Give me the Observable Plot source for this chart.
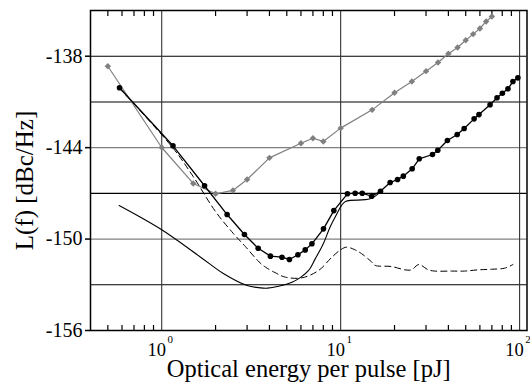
<!DOCTYPE html>
<html><head><meta charset="utf-8">
<script src="https://cdn.jsdelivr.net/npm/d3@7"></script>
<script src="https://cdn.jsdelivr.net/npm/@observablehq/plot@0.6"></script>
<style>
html,body{margin:0;padding:0;background:#fff;}
#chart svg, #chart svg text { font-family: "Liberation Serif", "Times New Roman", serif !important; }
</style></head><body><div id="chart"></div>
<script>
// Gray diamonds (measured)
const diamondX = [0.5,1.0,1.5,2.0,2.5,3.0,4.0,6.0,7.0,8.0,10,15,20,25,30,35,40,45,50,55,60,65,70];
const diamondY = [-138.66,-143.99,-146.35,-147.03,-146.81,-146.09,-144.67,-143.71,-143.38,-143.6,-142.72,-141.52,-140.4,-139.66,-138.98,-138.41,-137.84,-137.43,-136.95,-136.55,-136.18,-135.72,-135.39];
// Black circles (measured)
const circleX = [0.581,1.156,1.736,2.32,2.90,3.46,4.05,4.70,5.17,5.77,6.34,6.91,8.02,9.16,10.91,12.05,13.2,14.9,16.7,18.9,20.8,22.4,25.1,27.5,32.6,34.9,39.5,44.8,49.0,55.7,59.3,68.4,74.8,80.1,86.1,91.8,97.8];
const circleY = [-140.07,-143.88,-146.5,-148.39,-149.7,-150.6,-151.12,-151.19,-151.34,-151.03,-150.71,-150.31,-149.33,-148.13,-147.03,-146.99,-146.99,-147.19,-146.86,-146.29,-146.09,-145.87,-145.39,-144.73,-144.45,-144.17,-143.53,-143.14,-142.74,-142.11,-141.83,-141.19,-140.73,-140.43,-140.14,-139.66,-139.42];
// Solid curve (no markers)
const solidX = [0.578,1.0,1.65,2.21,3.0,3.56,3.9,4.5,5.35,6.0,6.62,7.21,8.0,8.72,9.53,10.1,10.7,14.6,16.7];
const solidY = [-147.8,-149.39,-151.19,-152.26,-153.05,-153.2,-153.22,-153.1,-152.83,-152.5,-152.06,-151.3,-150.31,-149.22,-148.34,-147.8,-147.52,-147.36,-146.9];
// Dashed curve
const dashX = [0.58,1.16,1.5,2.0,2.5,2.94,3.5,3.8,4.3,4.91,6.09,7.53,8.93,10.0,10.8,12.0,13.1,14.9,15.6,19.2,22.9,24.9,27.3,30.9,33.6,41.7,49.2,58.6,69.6,82.5,91.8];
const dashY = [-140.1,-144.05,-145.9,-148.2,-149.6,-150.5,-151.5,-151.84,-152.2,-152.5,-152.54,-152.06,-151.19,-150.7,-150.53,-150.7,-150.96,-151.5,-151.73,-151.8,-152.02,-152.02,-151.67,-152.02,-152.1,-152.1,-152.1,-152.02,-151.98,-151.91,-151.67];

const yTicks = [-156,-150,-144,-138];
const yGridDark = [-153,-147,-141,-138];
const yGridGray = [-150,-144];
const xTicks = [1,10,100];
const xMinor = [0.5,0.6,0.7,0.8,0.9,2,3,4,5,6,7,8,9,20,30,40,50,60,70,80,90];
const xLabel = "Optical energy per pulse [pJ]";
const yLabel = "L(f) [dBc/Hz]";

const diamonds = diamondX.map((x,i)=>({x, y: diamondY[i]}));
const circles = circleX.map((x,i)=>({x, y: circleY[i]}));
const solid = solidX.map((x,i)=>({x, y: solidY[i]}));
const dashed = dashX.map((x,i)=>({x, y: dashY[i]}));

const serif = "Liberation Serif, Times New Roman, serif";

const chart = Plot.plot({
  width: 530,
  height: 387,
  marginLeft: 90,
  marginRight: 3.5,
  marginTop: 10,
  marginBottom: 57,
  style: {fontFamily: serif, background: "#fff", color: "#000"},
  x: {type: "log", domain: [0.4, 110], axis: null},
  y: {domain: [-156, -135], axis: null},
  marks: [
    Plot.ruleY(yGridDark, {stroke: "#000", strokeWidth: 1.1}),
    Plot.ruleY(yGridGray, {stroke: "#808080", strokeWidth: 1.3}),
    Plot.ruleX(xTicks, {stroke: "#333", strokeWidth: 1.1}),
    Plot.axisX(xMinor, {anchor: "bottom", tickSize: -5, tickFormat: () => "", strokeWidth: 1.2, label: null}),
    Plot.axisX(xMinor, {anchor: "top", tickSize: -5, tickFormat: () => "", strokeWidth: 1.2, label: null}),
    Plot.axisX(xTicks, {anchor: "bottom", tickSize: 0, tickPadding: 12.5, fontSize: 18.5, dx: -5, tickFormat: () => "10", label: null}),
    Plot.axisX(xTicks, {anchor: "bottom", tickSize: 0, tickPadding: 4.5, fontSize: 11, dx: 8.5, tickFormat: d => String(Math.round(Math.log10(d))), label: null}),
    Plot.axisY(yTicks, {anchor: "left", tickSize: 5, tickPadding: 3, fontSize: 20, strokeWidth: 1.5, tickFormat: d => String(d), label: null}),
    Plot.line(dashed, {x: "x", y: "y", stroke: "#000", strokeWidth: 1, strokeDasharray: "6,4", curve: "catmull-rom"}),
    Plot.line(solid, {x: "x", y: "y", stroke: "#000", strokeWidth: 1.1, curve: "catmull-rom"}),
    Plot.line(diamonds, {x: "x", y: "y", stroke: "#808080", strokeWidth: 1.2}),
    Plot.dot(diamonds, {x: "x", y: "y", symbol: "diamond2", r: 2.9, fill: "#808080", stroke: "none"}),
    Plot.line(circles, {x: "x", y: "y", stroke: "#000", strokeWidth: 1.3}),
    Plot.dot(circles, {x: "x", y: "y", r: 2.8, fill: "#000", stroke: "none"}),
    Plot.frame({stroke: "#000", strokeWidth: 1.5}),
    Plot.text([xLabel], {frameAnchor: "bottom", textAnchor: "middle", lineAnchor: "middle", dy: 38.5, fontSize: 24.5, fill: "#000", fontFamily: serif}),
    Plot.text([yLabel], {frameAnchor: "left", textAnchor: "middle", lineAnchor: "middle", rotate: -90, dx: -66, dy: 10, fontSize: 25, fill: "#000", fontFamily: serif})
  ]
});
document.getElementById("chart").appendChild(chart);
</script>
</body></html>
